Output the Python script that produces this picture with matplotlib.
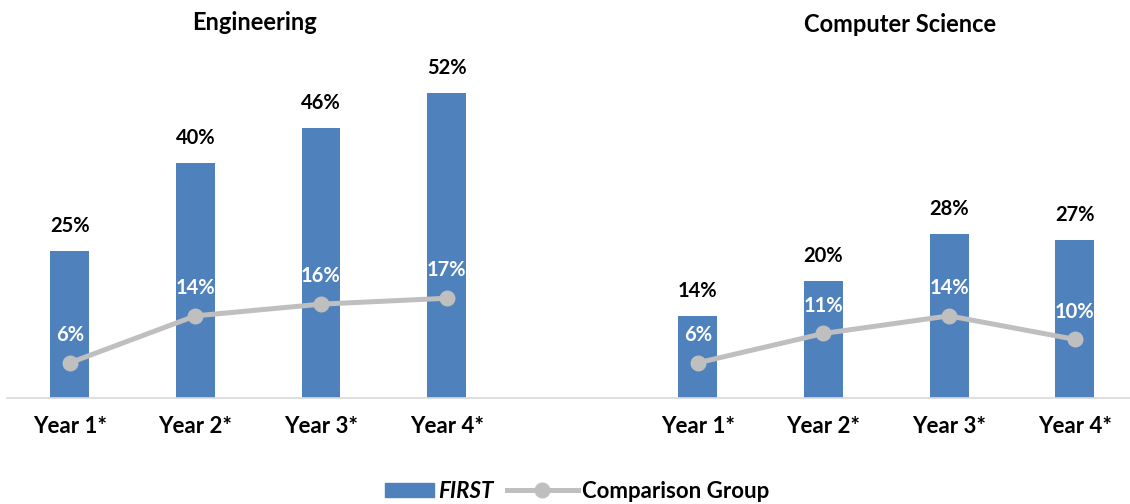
import matplotlib
matplotlib.use("Agg")
import matplotlib.pyplot as plt
import numpy as np
from matplotlib.patches import Patch, Rectangle
from matplotlib.lines import Line2D
from matplotlib.legend_handler import HandlerPatch

plt.rcParams['font.family'] = ['Lato', 'DejaVu Sans']
plt.rcParams['font.weight'] = 'bold'

years = ['Year 1*', 'Year 2*', 'Year 3*', 'Year 4*']
eng_first = [25, 40, 46, 52]
eng_comp = [6, 14, 16, 17]
cs_first = [14, 20, 28, 27]
cs_comp = [6, 11, 14, 10]
titles = ['Engineering', 'Computer Science']

BLUE = '#4F81BD'
GREY = '#BFBFBF'

fig = plt.figure(figsize=(11.3, 5.04), dpi=100)
ax = fig.add_axes([7 / 1130, 106 / 504, 1130.5 / 1130, 352 / 504])

# 9 slots: 4 engineering, 1 gap, 4 computer science
pos_eng = np.arange(4)
pos_cs = np.arange(5, 9)

for pos, first, comp in [(pos_eng, eng_first, eng_comp), (pos_cs, cs_first, cs_comp)]:
    ax.bar(pos, first, width=0.31, color=BLUE, zorder=2)
    ax.plot(pos, comp, color=GREY, lw=3.6, marker='o', ms=10.5, zorder=3)
    for x, v in zip(pos, first):
        ax.annotate(f'{v}%', (x, v), xytext=(0, 18), textcoords='offset points',
                    ha='center', va='center', fontsize=14.5, fontweight='bold', color='black')
    for x, v in zip(pos, comp):
        ax.annotate(f'{v}%', (x, v), xytext=(0, 20), textcoords='offset points',
                    ha='center', va='center', fontsize=14.5, fontweight='bold', color='white', zorder=4)

ax.set_xlim(-0.5, 8.5)
ax.set_ylim(0, 60)
ax.set_xticks(list(pos_eng) + list(pos_cs))
ax.set_xticklabels(years + years, fontsize=16, fontweight='bold')
ax.tick_params(axis='x', length=0, pad=13)
ax.set_yticks([])
for s in ['top', 'right', 'left']:
    ax.spines[s].set_visible(False)
ax.spines['bottom'].set_color('#D9D9D9')
ax.spines['bottom'].set_linewidth(1.2)

fig.text(255 / 1130, 1 - 23 / 504, titles[0], ha='center', va='center', fontsize=17, fontweight='bold')
fig.text(900 / 1130, 1 - 25 / 504, titles[1], ha='center', va='center', fontsize=17, fontweight='bold')


def narrow_patch(legend, orig_handle, xdescent, ydescent, width, height, fontsize):
    w = width * 0.69
    return Rectangle((width - w - xdescent, -ydescent), w, height)


handles = [Patch(color=BLUE), Line2D([], [], color=GREY, lw=3.6, marker='o', ms=10.5)]
leg = fig.legend(handles, ['FIRST', 'Comparison Group'], loc='center', bbox_to_anchor=(566 / 1130, 1 - 491 / 504),
                 ncol=2, frameon=False, fontsize=16, handlelength=3.2, handleheight=0.6,
                 columnspacing=0.6, handletextpad=0.2,
                 handler_map={Patch: HandlerPatch(patch_func=narrow_patch)})
for t in leg.get_texts():
    t.set_fontweight('bold')
leg.get_texts()[0].set_fontstyle('italic')

fig.savefig('out.png', dpi=100)
